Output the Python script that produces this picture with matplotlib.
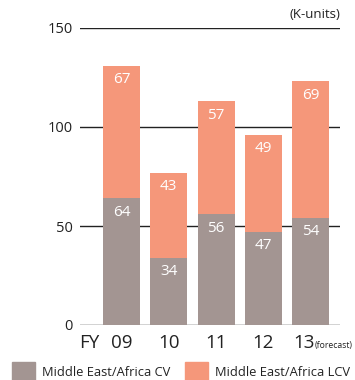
import matplotlib
matplotlib.use("Agg")
import matplotlib.pyplot as plt
from matplotlib.patches import Rectangle
from matplotlib.transforms import blended_transform_factory, ScaledTranslation

years = ["09", "10", "11", "12", "13"]
cv = [64, 34, 56, 47, 54]
lcv = [67, 43, 57, 49, 69]
yticks = [0, 50, 100, 150]
legend_labels = ["Middle East/Africa CV", "Middle East/Africa LCV"]

c_cv = "#A39592"
c_lcv = "#F5977A"
txt = "#222222"

plt.rcParams['font.family'] = ['Open Sans', 'DejaVu Sans']

W, H = 355, 380
fig = plt.figure(figsize=(W / 100, H / 100), dpi=100)
ax = fig.add_axes([80 / W, 55 / H, 260 / W, 297 / H])

x = list(range(len(years)))
ax.bar(x, cv, width=0.78, color=c_cv, zorder=3)
ax.bar(x, lcv, width=0.78, bottom=cv, color=c_lcv, zorder=3)

for t in yticks:
    ax.axhline(t, color="#222222", lw=1.0, zorder=2)

for xi, a, b in zip(x, cv, lcv):
    ax.annotate(str(a), (xi, a), xytext=(0, -10), textcoords="offset points",
                ha="center", va="center", color="white", fontsize=11, zorder=4)
    ax.annotate(str(b), (xi, a + b), xytext=(0, -10), textcoords="offset points",
                ha="center", va="center", color="white", fontsize=11, zorder=4)

ax.set_xlim(-0.878, 4.62)
ax.set_ylim(0, 150)
for s in ax.spines.values():
    s.set_visible(False)
ax.set_yticks(yticks)
ax.set_yticklabels([str(t) for t in yticks], fontsize=10.5, color=txt)
ax.tick_params(axis="y", length=0, pad=5)
ax.set_xticks([])

trans = blended_transform_factory(ax.transData, ax.transAxes)
for i, (xi, lab) in enumerate(zip(x, years)):
    tr = trans
    if i == len(years) - 1:
        tr = trans + ScaledTranslation(-7 / 100, 0, fig.dpi_scale_trans)
    ax.text(xi, -0.062, lab, transform=tr, ha="center", va="center", fontsize=13.5, color=txt)
ax.text(-0.9, -0.062, "FY", transform=trans, ha="left", va="center", fontsize=13.5, color=txt)
ax.text(4.0, -0.068, "(forecast)",
        transform=trans + ScaledTranslation(4 / 100, 0, fig.dpi_scale_trans),
        ha="left", va="center", fontsize=6.2, color=txt)
ax.text(1.0, 1.045, "(K-units)", transform=ax.transAxes, ha="right", va="center", fontsize=9.5, color=txt)

# legend
for px, col, lab in [(12, c_cv, legend_labels[0]), (185, c_lcv, legend_labels[1])]:
    fig.patches.append(Rectangle((px / W, 0), 23 / W, 18 / H, transform=fig.transFigure,
                                 color=col, figure=fig))
    fig.text((px + 30) / W, 8 / H, lab, ha="left", va="center", fontsize=9.3, color=txt)

fig.savefig("out.png", dpi=100)
